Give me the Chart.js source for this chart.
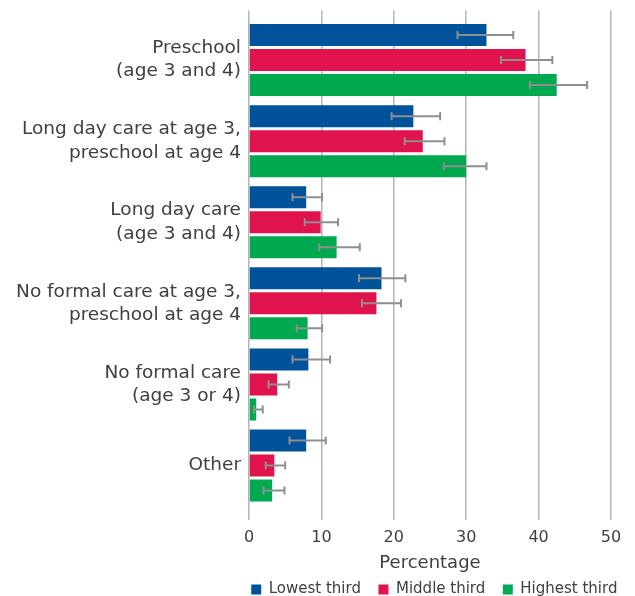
<!DOCTYPE html>
<html>
<head>
<meta charset="utf-8">
<script src="https://cdn.jsdelivr.net/npm/chart.js@4"></script>
<style>
  html, body { margin: 0; padding: 0; background: #fff; }
  #wrap { position: relative; width: 635px; height: 596px; }
</style>
</head>
<body>
<div id="wrap"><canvas id="c"></canvas></div>
<script>
const categories = [
    ['Preschool', '(age 3 and 4)'],
    ['Long day care at age 3,', 'preschool at age 4'],
    ['Long day care', '(age 3 and 4)'],
    ['No formal care at age 3,', 'preschool at age 4'],
    ['No formal care', '(age 3 or 4)'],
    'Other'
];
const seriesNames = ['Lowest third', 'Middle third', 'Highest third'];
const xTicks = [0, 10, 20, 30, 40, 50];

const lowest = [32.8, 22.7, 7.9, 18.3, 8.2, 7.9];
const lowestLo = [28.8, 19.7, 6.0, 15.2, 6.0, 5.6];
const lowestHi = [36.5, 26.4, 10.1, 21.6, 11.2, 10.6];

const middle = [38.2, 24.0, 9.9, 17.6, 3.9, 3.5];
const middleLo = [34.8, 21.5, 7.7, 15.6, 2.7, 2.3];
const middleHi = [41.9, 27.0, 12.3, 21.0, 5.5, 5.0];

const highest = [42.5, 30.0, 12.1, 8.1, 1.0, 3.2];
const highestLo = [38.8, 26.9, 9.7, 6.6, 0.7, 2.0];
const highestHi = [46.7, 32.8, 15.3, 10.1, 1.9, 4.9];

const colors = ['#00529b', '#e0134f', '#00a94f'];
const errLo = [lowestLo, middleLo, highestLo];
const errHi = [lowestHi, middleHi, highestHi];

const FONT = '"DejaVu Sans", sans-serif';
const TEXT = '#404040';
const GRID = '#b4b4b4';

// barres d'erreur dessinées à partir des échelles
const errorBars = {
    id: 'errorBars',
    afterDatasetsDraw(chart) {
        const ctx = chart.ctx;
        const x = chart.scales.x;
        ctx.save();
        ctx.strokeStyle = '#8f8f8f';
        ctx.lineWidth = 2;
        chart.data.datasets.forEach((ds, i) => {
            const meta = chart.getDatasetMeta(i);
            meta.data.forEach((bar, j) => {
                const x1 = x.getPixelForValue(errLo[i][j]);
                const x2 = x.getPixelForValue(errHi[i][j]);
                const y = bar.y;
                ctx.beginPath();
                ctx.moveTo(x1, y); ctx.lineTo(x2, y);
                ctx.moveTo(x1, y - 4); ctx.lineTo(x1, y + 4);
                ctx.moveTo(x2, y - 4); ctx.lineTo(x2, y + 4);
                ctx.stroke();
            });
        });
        ctx.restore();
    }
};

new Chart(document.getElementById('c'), {
    type: 'bar',
    data: {
        labels: categories,
        datasets: [lowest, middle, highest].map((d, i) => ({
            label: seriesNames[i],
            data: d,
            backgroundColor: colors[i],
            categoryPercentage: 0.925,
            barPercentage: 0.88
        }))
    },
    options: {
        indexAxis: 'y',
        responsive: true,
        maintainAspectRatio: false,
        animation: false,
        layout: {padding: {top: 9, right: 0, left: 0, bottom: -11}},
        scales: {
            x: {
                position: 'bottom',
                min: 0, max: 50,
                afterBuildTicks: s => { s.ticks = xTicks.map(v => ({value: v})); },
                afterFit: s => { s.height = 68; },
                grid: {color: GRID, lineWidth: 1.5, tickLength: 14, drawTicks: true},
                border: {display: false},
                ticks: {color: TEXT, font: {family: FONT, size: 16}, padding: 8},
                title: {display: true, text: 'Percentage', color: TEXT, font: {family: FONT, size: 18}, padding: {top: 0, bottom: 0}}
            },
            x2: {
                position: 'top',
                min: 0, max: 50,
                afterBuildTicks: s => { s.ticks = xTicks.map(v => ({value: v})); },
                grid: {color: GRID, lineWidth: 1.5, tickLength: 9, drawOnChartArea: false},
                border: {display: false},
                ticks: {display: false}
            },
            y: {
                offset: true,
                grid: {display: false, drawTicks: false},
                border: {display: false},
                afterFit: s => { s.width = 249; },
                ticks: {color: TEXT, font: {family: FONT, size: 18.5, lineHeight: 1.25}, padding: 8}
            },
            // axe vide pour garder la marge droite
            yRight: {
                position: 'right',
                type: 'category',
                grid: {display: false, drawTicks: false},
                border: {display: false},
                ticks: {display: false},
                afterFit: s => { s.width = 24; }
            }
        },
        plugins: {
            legend: {
                position: 'bottom',
                align: 'end',
                labels: {
                    color: TEXT, font: {family: FONT, size: 15},
                    boxWidth: 10, boxHeight: 10, padding: 8,
                    generateLabels: chart => Chart.defaults.plugins.legend.labels.generateLabels(chart)
                        .map(l => Object.assign(l, {text: l.text + '  '}))
                }
            },
            tooltip: {enabled: false}
        }
    },
    plugins: [errorBars]
});
</script>
</body>
</html>
